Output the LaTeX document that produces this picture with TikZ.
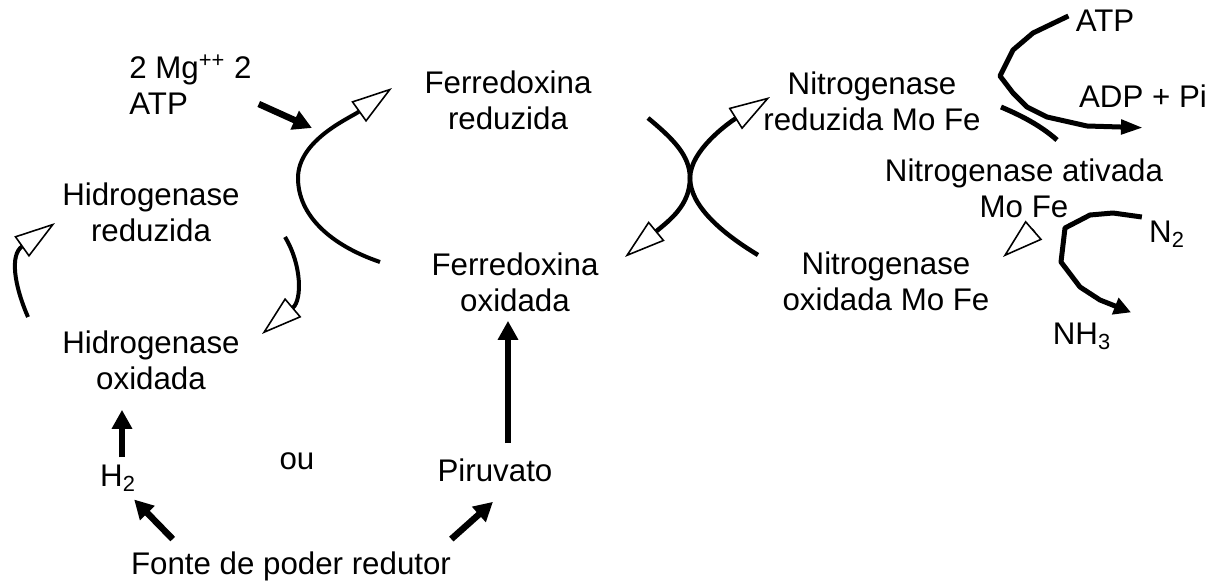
\documentclass[tikz,border=0pt]{standalone}
\usepackage{fontspec}
\setmainfont{Liberation Sans}
\usepackage{tikz}
\usetikzlibrary{arrows.meta, calc}

\begin{document}
\begin{tikzpicture}[
    x=0.02cm, y=-0.02cm,
    font=\fontsize{17.8}{20.5}\selectfont,
    lbl/.style={inner sep=0pt, align=center},
    cyc/.style={line width=0.8mm, -{Triangle[open, length=8.2mm, width=5mm, line width=0.9pt]}},
    thk/.style={line width=1.3mm, -{Triangle[length=3.8mm, width=3.9mm]}},
    arcline/.style={line width=1mm, line join=round},
    arcarr/.style={arcline, -{Triangle[length=4.4mm, width=2.8mm]}}
  ]
    \useasboundingbox (0,0) rectangle (1215,581);
    \node[lbl, align=left, anchor=west] (mgatp) at (129,85) {2 Mg\textsuperscript{++} 2\\ATP};
    \node[lbl] (fdred) at (508,100) {Ferredoxina\\reduzida};
    \node[lbl] (nred) at (872,101) {Nitrogenase\\reduzida Mo Fe};
    \node[lbl] (atp) at (1105,21) {ATP};
    \node[lbl] (adp) at (1143,96) {ADP + Pi};
    \node[lbl] (nativ) at (1024,188) {Nitrogenase ativada\\Mo Fe};
    \node[lbl] (hred) at (151,212) {Hidrogenase\\reduzida};
    \node[lbl] (fdox) at (515,282) {Ferredoxina\\oxidada};
    \node[lbl] (nox) at (886,281) {Nitrogenase\\oxidada Mo Fe};
    \node[lbl] (ntwo) at (1167,234) {N\textsubscript{2}};
    \node[lbl] (nhthree) at (1082,336) {NH\textsubscript{3}};
    \node[lbl] (hox) at (151,360) {Hidrogenase\\oxidada};
    \node[lbl] (htwo) at (118,478) {H\textsubscript{2}};
    \node[lbl] (ou) at (297,461) {ou};
    \node[lbl] (piru) at (495,470) {Piruvato};
    \node[lbl] (fonte) at (291,566) {Fonte de poder redutor};
    \coordinate (fdin) at (380,262);
    \coordinate (fdout) at (392,88);
    \coordinate (mgin) at (312,128);
    \draw[cyc] (fdin) .. controls (330,245) and (298,215) .. (298,178)
      .. controls (298,140) and (350,118) .. (fdout);
    \draw[thk] ($(mgatp.east)+(7,19)$) -- (mgin);
    \coordinate (xa) at (648,118);
    \coordinate (xb) at (625,257);
    \coordinate (xc) at (758,255);
    \coordinate (xd) at (770,97);
    \draw[cyc, line width=0.9mm] (xa) .. controls (672,138) and (690,155) .. (690,178)
      .. controls (690,205) and (670,220) .. (xb);
    \draw[cyc, line width=0.9mm] (xc) .. controls (720,232) and (690,205) .. (690,178)
      .. controls (690,150) and (730,122) .. (xd);
    \coordinate (ha) at (28,317);
    \coordinate (hb) at (55,223);
    \coordinate (hc) at (285,237);
    \coordinate (hd) at (262,334);
    \draw[cyc] (ha) .. controls (14,285) and (10,255) .. (hb);
    \draw[cyc] (hc) .. controls (302,265) and (302,300) .. (hd);
    \coordinate (ta) at (1034,230);
    \coordinate (tb) at (1003,257);
    \draw[cyc] (ta) -- (tb);
    \draw[thk] ($(piru.north)+(13,-15)$) -- ($(fdox.south)+(-7,9)$);
    \draw[thk] ($(htwo.north)+(4,-7)$) -- ($(htwo.north |- hox.south)+(4,20)$);
    \draw[thk] ($(fonte.north west)+(42,-12)$) -- ($(htwo.south east)+(-2,8)$);
    \draw[thk] ($(fonte.north east)+(0,-12)$) -- ($(piru.south)+(-2,20)$);
    \coordinate (pa) at (1001,107);
    \coordinate (pb) at (1057,140);
    \draw[arcline] (pa) .. controls (1020,115) and (1040,125) .. (pb);
    \draw[arcarr] ($(atp.west)+(-7,-5)$) -- (1033,33) -- (1013,50) -- (1000,76) -- (1013,93)
      -- (1027,107) -- (1047,117) -- (1087,126) -- ($(adp.south)+(0,20)$);
    \draw[arcarr, -{Triangle[length=3.4mm, width=3.4mm]}] ($(ntwo.west)+(-7,-17)$) -- (1113,213)
      -- (1090,215) -- (1065,228) -- (1061,262) -- (1080,287) -- (1100,300) -- ($(nhthree.north)+(49,-10)$);
  \end{tikzpicture}
\end{document}
